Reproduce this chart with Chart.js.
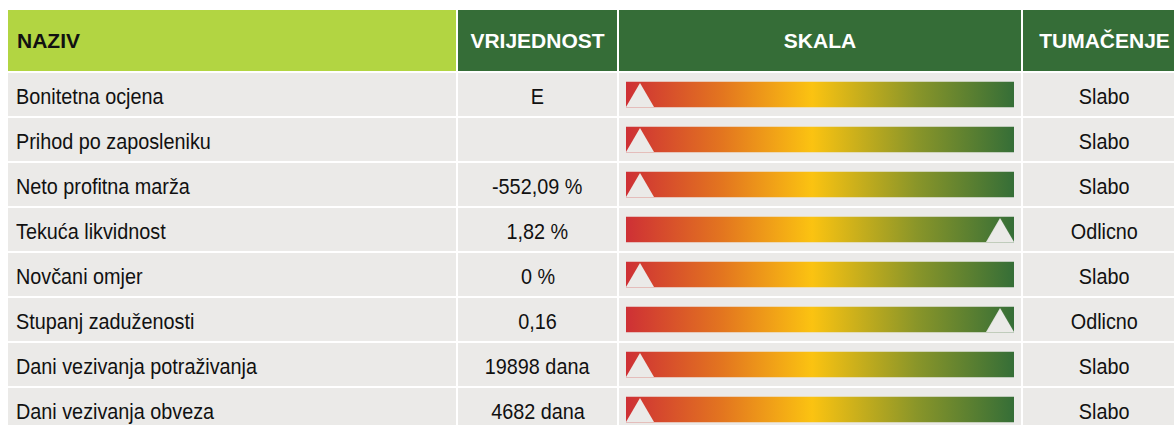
<!DOCTYPE html>
<html>
<head>
<meta charset="utf-8">
<script src="https://cdn.jsdelivr.net/npm/chart.js@4/dist/chart.umd.min.js"></script>
<style>
    html, body { margin: 0; padding: 0; background: #fff; overflow: hidden; }
    body { width: 1174px; height: 425px; position: relative; }
    #table {
        position: absolute; left: 8px; top: 10px;
        display: grid;
        grid-template-columns: 448px 159px 402px 163px;
        grid-template-rows: 61px repeat(8, 43px);
        gap: 2px 2px;
        font-family: "Liberation Sans", Arial, sans-serif;
        font-size: 22px;
        color: #111;
    }
    #table div { display: flex; align-items: center; background: #ebeae8; padding-top: 4px; box-sizing: border-box; white-space: nowrap; }
    #table span { display: inline-block; transform: scaleX(0.9); }
    #table .head { background: #356d37; color: #fff; font-weight: bold; justify-content: center; font-size: 21px; padding-top: 0; }
    #table .head span { transform: none; }
    #table .head.first { background: #b2d542; color: #111; justify-content: flex-start; padding-left: 9px; }
    #table .name { padding-left: 8px; }
    #table .name span { transform-origin: left center; }
    #table .center { justify-content: center; }
    #skala { position: absolute; left: 626px; top: 72px; width: 388px; height: 360px; }
</style>
</head>
<body>
<div id="table"></div>
<div id="skala"><canvas id="skalaChart"></canvas></div>
<script>
// podaci
const headers = ['NAZIV', 'VRIJEDNOST', 'SKALA', 'TUMAČENJE'];
const names = [
    'Bonitetna ocjena',
    'Prihod po zaposleniku',
    'Neto profitna marža',
    'Tekuća likvidnost',
    'Novčani omjer',
    'Stupanj zaduženosti',
    'Dani vezivanja potraživanja',
    'Dani vezivanja obveza',
];
const values = ['E', '', '-552,09 %', '1,82 %', '0 %', '0,16', '19898 dana', '4682 dana'];
const ratings = ['Slabo', 'Slabo', 'Slabo', 'Odlicno', 'Slabo', 'Odlicno', 'Slabo', 'Slabo'];
// položaj oznake na skali (0 = slabo, 1 = odlično)
const markerPos = [0.036, 0.036, 0.036, 0.964, 0.036, 0.964, 0.036, 0.036];
const scaleFull = [1, 1, 1, 1, 1, 1, 1, 1];

// tablica
const table = document.getElementById('table');
function addCell(text, cls) {
    const d = document.createElement('div');
    if (cls) d.className = cls;
    if (text) {
        const s = document.createElement('span');
        s.textContent = text;
        d.appendChild(s);
    }
    table.appendChild(d);
}
headers.forEach((h, i) => addCell(h, 'head' + (i === 0 ? ' first' : '')));
names.forEach((n, i) => {
    addCell(n, 'name');
    addCell(values[i], 'center');
    addCell('', '');
    addCell(ratings[i], 'center');
});

// trokut za oznaku
function makeTriangle() {
    const c = document.createElement('canvas');
    c.width = 28;
    c.height = 25;
    const g = c.getContext('2d');
    g.fillStyle = '#ebeae8';
    g.beginPath();
    g.moveTo(14, 1);
    g.lineTo(28, 25);
    g.lineTo(0, 25);
    g.closePath();
    g.fill();
    return c;
}
const triangle = makeTriangle();

function gradientFill(context) {
    const chart = context.chart;
    const area = chart.chartArea;
    if (!area) return '#e0a020';
    const grad = chart.ctx.createLinearGradient(area.left, 0, area.right, 0);
    grad.addColorStop(0, '#ce3035');
    grad.addColorStop(0.25, '#e3761f');
    grad.addColorStop(0.48, '#fbc311');
    grad.addColorStop(0.75, '#899529');
    grad.addColorStop(1, '#356e37');
    return grad;
}

new Chart(document.getElementById('skalaChart'), {
    type: 'bar',
    data: {
        labels: names,
        datasets: [
            {
                type: 'scatter',
                data: markerPos.map((x, i) => ({ x: x, y: names[i] })),
                pointStyle: triangle,
                pointRadius: 14,
                order: 0,
            },
            {
                data: scaleFull,
                backgroundColor: gradientFill,
                barThickness: 25,
                borderWidth: 0,
                order: 1,
            },
        ],
    },
    options: {
        indexAxis: 'y',
        responsive: true,
        maintainAspectRatio: false,
        animation: false,
        events: [],
        layout: { padding: 0, autoPadding: false },
        plugins: { legend: { display: false }, tooltip: { enabled: false } },
        scales: {
            x: { type: 'linear', min: 0, max: 1, display: false },
            y: { type: 'category', display: false, offset: true },
        },
    },
});
</script>
</body>
</html>
